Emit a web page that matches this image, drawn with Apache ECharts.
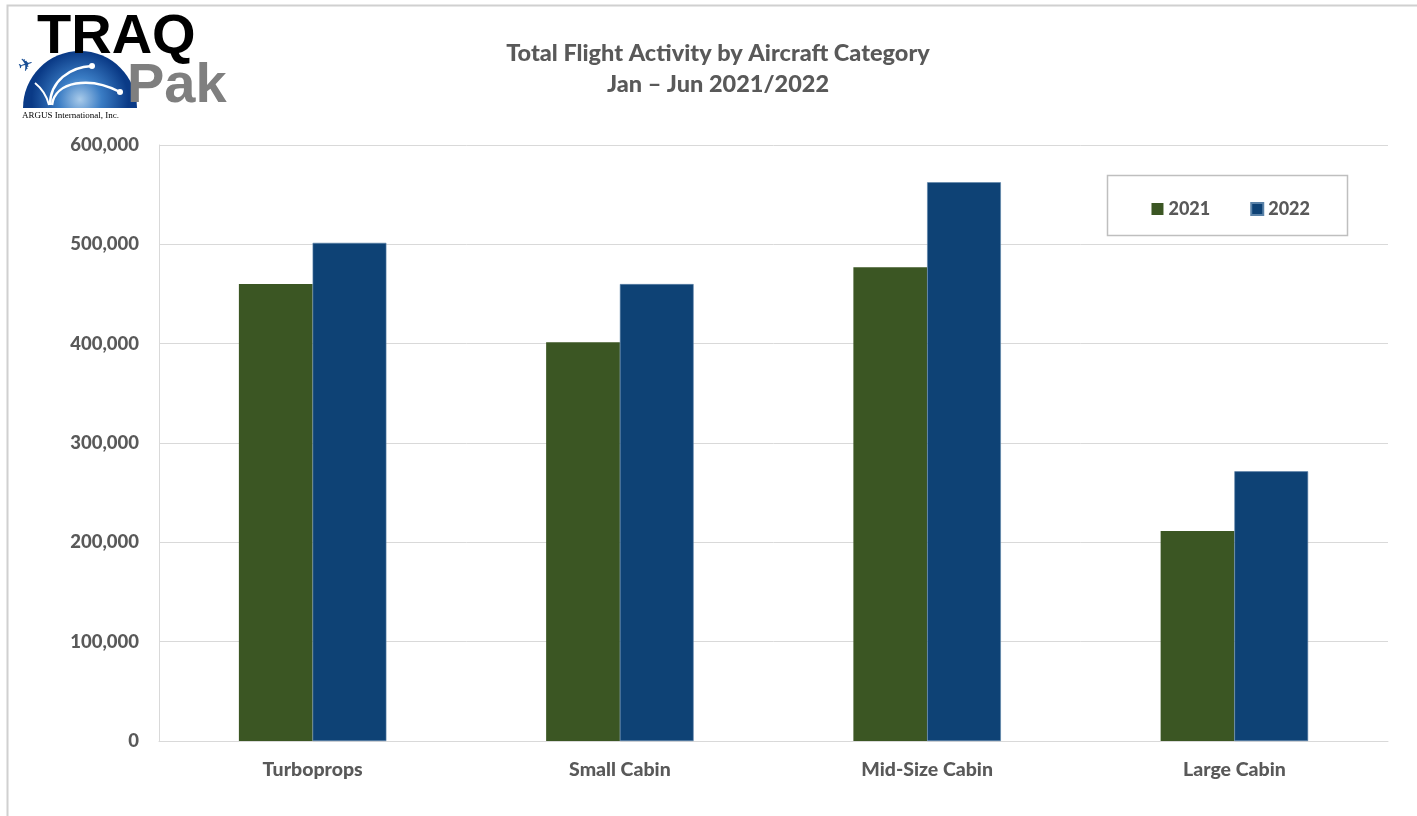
<!DOCTYPE html>
<html><head><meta charset="utf-8">
<script src="https://cdn.jsdelivr.net/npm/echarts@6/dist/echarts.min.js"></script>
<style>html,body{margin:0;padding:0;background:#fff}#c{width:1417px;height:816px}</style>
</head><body><div id="c"></div>
<script>
const categories = ['Turboprops', 'Small Cabin', 'Mid-Size Cabin', 'Large Cabin'];
const values2021 = [460000, 401500, 477000, 211500];
const values2022 = [501500, 460000, 562500, 271500];
const seriesNames = ['2021', '2022'];
const yTicks = [0, 100000, 200000, 300000, 400000, 500000, 600000];

const chart = echarts.init(document.getElementById('c'));
const txt = '#595959';
const fam = 'Lato, "Open Sans", sans-serif';
chart.setOption({
  animation: false,
  backgroundColor: '#fff',
  title: {
    text: 'Total Flight Activity by Aircraft Category\nJan – Jun 2021/2022',
    left: 713, top: 33, textAlign: 'center',
    textStyle: { color: txt, fontFamily: fam, fontWeight: 900, fontSize: 23.5, lineHeight: 31 }
  },
  legend: {
    data: seriesNames, right: 102, top: 195, itemWidth: 12, itemHeight: 12, itemGap: 40,
    icon: 'rect',
    textStyle: { color: txt, fontFamily: fam, fontWeight: 900, fontSize: 18 }
  },
  grid: { left: 159, right: 29, top: 145, bottom: 75, containLabel: false },
  xAxis: {
    type: 'category', data: categories,
    axisLine: { lineStyle: { color: '#d9d9d9', width: 1 } },
    axisTick: { show: false },
    axisLabel: { color: txt, fontFamily: fam, fontWeight: 900, fontSize: 19.5, margin: 19 }
  },
  yAxis: {
    type: 'value', min: yTicks[0], max: yTicks[yTicks.length - 1], interval: 100000,
    axisLine: { show: true, lineStyle: { color: '#d9d9d9' } },
    axisTick: { show: false },
    splitLine: { lineStyle: { color: '#d9d9d9', width: 1 } },
    axisLabel: { color: txt, fontFamily: fam, fontWeight: 900, fontSize: 18.5, margin: 20,
      formatter: v => v.toLocaleString('en-US') }
  },
  series: [
    { name: seriesNames[0], type: 'bar', data: values2021, barGap: '0%', barCategoryGap: '52%',
      itemStyle: { color: '#3b5623' } },
    { name: seriesNames[1], type: 'bar', data: values2022,
      itemStyle: { color: '#0e4275', borderColor: '#5a82a8', borderWidth: 0.6 } }
  ],
  graphic: [
    { type: 'rect', shape: { x: 7.5, y: 5.5, width: 1450, height: 900 }, style: { fill: 'none', stroke: '#d0d0d0', lineWidth: 2 }, silent: true },
    { type: 'rect', shape: { x: 1107.5, y: 175.5, width: 240, height: 60 }, style: { fill: 'none', stroke: '#bfbfbf', lineWidth: 1.5 }, silent: true, z: 10 },
    // logo dome
    { type: 'sector', shape: { cx: 80, cy: 108, r: 57, startAngle: Math.PI, endAngle: 2 * Math.PI },
      style: { fill: new echarts.graphic.RadialGradient(0.5, 0.85, 0.85, [{ offset: 0, color: '#a9cbea' }, { offset: 0.45, color: '#3a7cc4' }, { offset: 1, color: '#0a3a86' }]) } },
    { type: 'bezierCurve', shape: { x1: 52, y1: 105, x2: 120, y2: 92, cpx1: 55, cpy1: 81, cpx2: 90, cpy2: 76 }, style: { stroke: '#fff', lineWidth: 2.5, fill: 'none' } },
    { type: 'bezierCurve', shape: { x1: 50, y1: 105, x2: 92, y2: 66, cpx1: 50, cpy1: 81, cpx2: 70, cpy2: 67 }, style: { stroke: '#fff', lineWidth: 2.5, fill: 'none' } },
    { type: 'bezierCurve', shape: { x1: 49, y1: 105, x2: 35, y2: 83, cpx1: 46, cpy1: 93, cpx2: 40, cpy2: 87 }, style: { stroke: '#fff', lineWidth: 2, fill: 'none' } },
    { type: 'circle', shape: { cx: 92, cy: 66, r: 3 }, style: { fill: '#fff' } },
    { type: 'circle', shape: { cx: 120, cy: 92, r: 3 }, style: { fill: '#fff' } },
    { type: 'text', x: 26, y: 66, rotation: 0.3, style: { x: 0, y: 0, text: '✈', font: '18px "DejaVu Sans"', fill: '#1a4f95', align: 'center', verticalAlign: 'middle' } },
    { type: 'text', style: { x: 37, y: 10, text: 'TRAQ', font: 'bold 56px "Liberation Sans", Arial', fill: '#000' } },
    { type: 'text', style: { x: 127, y: 59, text: 'Pak', font: 'bold 56px "Liberation Sans", Arial', fill: '#7f7f7f' } },
    { type: 'text', style: { x: 22, y: 111, text: 'ARGUS International, Inc.', font: '9px "Liberation Serif", serif', fill: '#000' } }
  ]
});
</script></body></html>
